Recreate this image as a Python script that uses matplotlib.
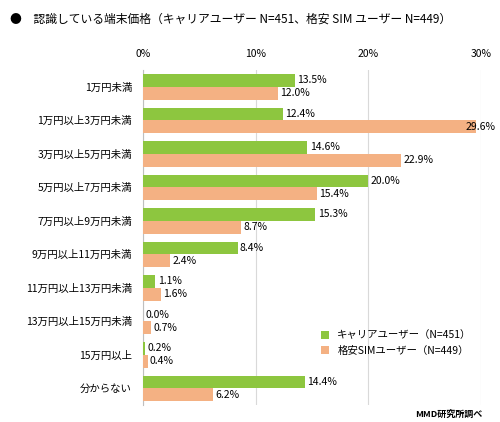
import matplotlib
matplotlib.use("Agg")
import matplotlib.pyplot as plt
import numpy as np

plt.rcParams['font.family'] = ['Noto Sans CJK JP', 'DejaVu Sans']

categories = ["1万円未満", "1万円以上3万円未満", "3万円以上5万円未満", "5万円以上7万円未満",
              "7万円以上9万円未満", "9万円以上11万円未満", "11万円以上13万円未満",
              "13万円以上15万円未満", "15万円以上", "分からない"]
carrier = [13.5, 12.4, 14.6, 20.0, 15.3, 8.4, 1.1, 0.0, 0.2, 14.4]
sim = [12.0, 29.6, 22.9, 15.4, 8.7, 2.4, 1.6, 0.7, 0.4, 6.2]
series_names = ["キャリアユーザー（N=451）", "格安SIMユーザー（N=449）"]
ticks = [0, 10, 20, 30]
tick_labels = ["0%", "10%", "20%", "30%"]

green = "#8DC63F"
orange = "#F4B183"

fig = plt.figure(figsize=(5, 4.22), dpi=100)
ax = fig.add_axes([0.286, 0.04, 0.676, 0.794])
y = np.arange(len(categories))
h = 0.38
ax.barh(y - h/2, carrier, height=h, color=green, label=series_names[0], zorder=3)
ax.barh(y + h/2, sim, height=h, color=orange, label=series_names[1], zorder=3)
for i in range(len(categories)):
    ax.text(min(carrier[i] + 0.2, 28.6), y[i] - h/2, f"{carrier[i]:.1f}%", va="center", ha="left", fontsize=7.5, zorder=4)
    ax.text(min(sim[i] + 0.2, 28.6), y[i] + h/2, f"{sim[i]:.1f}%", va="center", ha="left", fontsize=7.5, zorder=4)
ax.set_xlim(0, 30)
ax.set_ylim(len(categories) - 0.5, -0.5)
ax.set_yticks(y)
ax.set_yticklabels(categories, fontsize=7.5)
ax.xaxis.tick_top()
ax.set_xticks(ticks)
ax.set_xticklabels(tick_labels, fontsize=7.5)
ax.tick_params(length=0, pad=8)
ax.grid(axis="x", color="#D9D9D9", lw=0.8, zorder=0)
for s in ["top", "right", "bottom"]:
    ax.spines[s].set_visible(False)
ax.spines["left"].set_color("#BFBFBF")
ax.legend(loc="lower right", bbox_to_anchor=(1.0, 0.12), frameon=False, fontsize=7.5,
          handlelength=0.8, handleheight=0.8)
fig.text(0.02, 0.955, "●　認識している端末価格（キャリアユーザー N=451、格安 SIM ユーザー N=449）", fontsize=8.5, va="center")
fig.text(0.965, 0.012, "MMD研究所調べ", fontsize=6.5, ha="right", weight="bold")
fig.savefig("out.png", dpi=100)
